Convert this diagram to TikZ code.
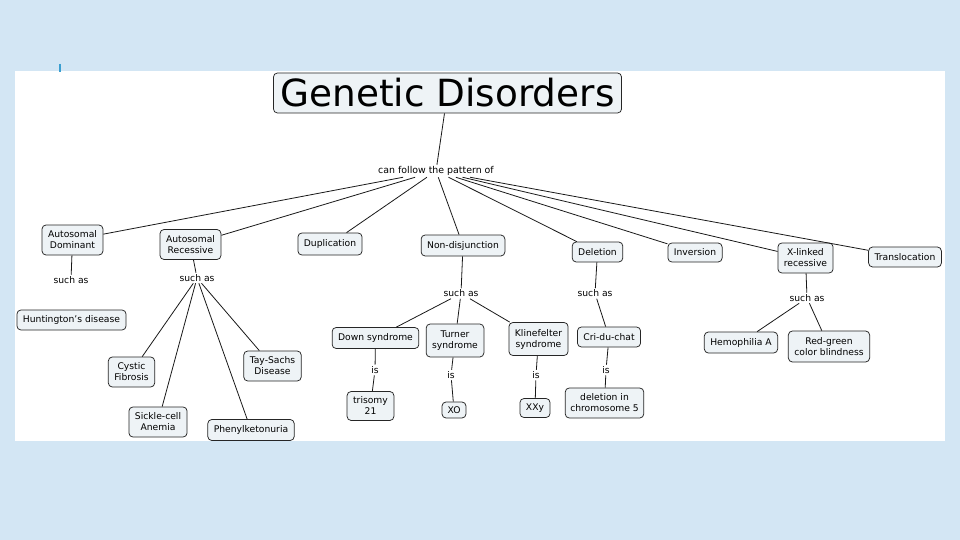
\documentclass[tikz,border=0pt]{standalone}
\usepackage{fontspec}
\setmainfont{DejaVu Sans}
\definecolor{bgblue}{HTML}{D3E6F4}
\definecolor{boxfill}{HTML}{EEF3F6}
\definecolor{tickblue}{HTML}{3A9FD0}
\begin{document}
\begin{tikzpicture}[x=1pt,y=-1pt,
  concept/.style={draw=black!85,fill=boxfill,rounded corners=4pt,line width=0.75pt,
    inner xsep=6pt,inner ysep=4pt,minimum height=20pt,align=center,
    font=\fontsize{9.2}{11}\selectfont},
  linkword/.style={inner sep=1.5pt,font=\fontsize{9.2}{11}\selectfont},
  conn/.style={draw=black!90,line width=0.8pt}]
\useasboundingbox (0,0) rectangle (960,540);
\fill[bgblue] (0,0) rectangle (960,540);
\fill[white] (15,71) rectangle (945,441);
\draw[tickblue,line width=1.5pt] (60,64) -- (60,72);

\node[concept,font=\fontsize{37.4}{40}\selectfont,inner xsep=7pt,minimum height=40pt] (title) at (447.5,93) {Genetic Disorders};
\node[linkword,font=\fontsize{9.4}{11}\selectfont] (lbl) at (436,171) {can follow the pattern of};

\node[concept,minimum height=30pt] (ad) at (72.5,240) {Autosomal\\Dominant};
\node[concept,minimum height=30pt] (ar) at (190.5,244.5) {Autosomal\\Recessive};
\node[concept,minimum height=22pt] (dup) at (330,244) {Duplication};
\node[concept,minimum height=21pt] (nd) at (463,245.5) {Non-disjunction};
\node[concept,minimum height=20pt] (del) at (597.5,252) {Deletion};
\node[concept,minimum height=19pt] (inv) at (695,252.5) {Inversion};
\node[concept,minimum height=30pt] (xl) at (805.5,258) {X-linked\\recessive};
\node[concept,minimum height=20pt] (tr) at (905,257) {Translocation};

\node[linkword] (sa1) at (71,280) {such as};
\node[concept,minimum height=20pt] (hd) at (71.5,320) {Huntington\symbol{39}s disease};

\node[linkword] (sa2) at (197,278) {such as};
\node[concept,minimum height=30pt] (cf) at (131.5,372) {Cystic\\Fibrosis};
\node[concept,minimum height=30pt] (ts) at (272.5,366) {Tay-Sachs\\Disease};
\node[concept,minimum height=30pt] (sc) at (158,422) {Sickle-cell\\Anemia};
\node[concept,minimum height=21pt] (pk) at (251,430) {Phenylketonuria};

\node[linkword] (sa3) at (461,293.5) {such as};
\node[concept,minimum height=21pt] (ds) at (375.5,338) {Down syndrome};
\node[concept,minimum height=33pt] (tu) at (455,340.5) {Turner\\syndrome};
\node[concept,minimum height=33pt] (kl) at (538.5,339) {Klinefelter\\syndrome};

\node[linkword] (sa4) at (595,293.5) {such as};
\node[concept,minimum height=20pt] (cdc) at (609,337) {Cri-du-chat};

\node[linkword] (is1) at (375,370) {is};
\node[linkword] (is2) at (451,375) {is};
\node[linkword] (is3) at (536,375) {is};
\node[linkword] (is4) at (606,370) {is};

\node[concept,minimum height=29pt] (t21) at (370.5,406) {trisomy\\21};
\node[concept,minimum height=16pt,inner xsep=5.5pt,inner ysep=2pt] (xo) at (454,410) {XO};
\node[concept,minimum height=19pt] (xxy) at (535,408) {XXy};
\node[concept,minimum height=30pt,inner xsep=5pt] (d5) at (604.5,403) {deletion in\\chromosome 5};

\node[linkword] (sa5) at (807,298) {such as};
\node[concept,minimum height=21pt] (hem) at (741,342.5) {Hemophilia A};
\node[concept,minimum height=31pt] (rg) at (829,346.5) {Red-green\\color blindness};

\draw[conn] (title) -- (lbl);
\foreach \n in {ad,ar,dup,nd,del,inv,xl,tr} \draw[conn] (lbl) -- (\n);
\draw[conn] (ad) -- (sa1);
\draw[conn] (ar) -- (sa2);
\foreach \n in {cf,sc,pk,ts} \draw[conn] (sa2) -- (\n);
\draw[conn] (nd) -- (sa3);
\foreach \n in {ds,tu,kl} \draw[conn] (sa3) -- (\n);
\draw[conn] (ds) -- (is1) -- (t21);
\draw[conn] (tu) -- (is2) -- (xo);
\draw[conn] (kl) -- (is3) -- (xxy);
\draw[conn] (del) -- (sa4) -- (cdc);
\draw[conn] (cdc) -- (is4) -- (d5);
\draw[conn] (xl) -- (sa5);
\draw[conn] (sa5) -- (hem);
\draw[conn] (sa5) -- (rg);
\end{tikzpicture}
\end{document}
